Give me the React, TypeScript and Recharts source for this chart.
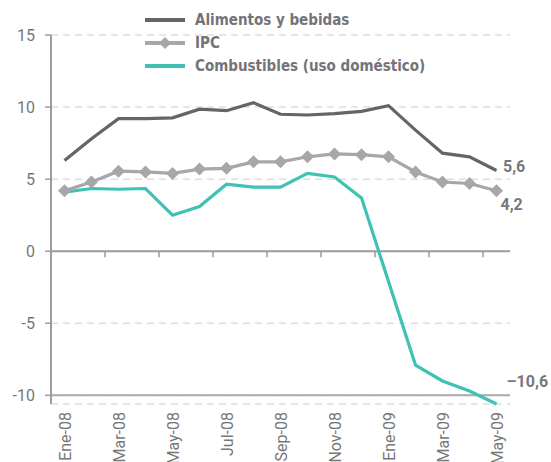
import React from 'react';
import { LineChart, Line, XAxis, YAxis, CartesianGrid, ReferenceLine, Legend, LabelList } from 'recharts';

const months = ['Ene-08', 'Feb-08', 'Mar-08', 'Abr-08', 'May-08', 'Jun-08', 'Jul-08', 'Ago-08', 'Sep-08', 'Oct-08', 'Nov-08', 'Dic-08', 'Ene-09', 'Feb-09', 'Mar-09', 'Abr-09', 'May-09'];
const alimentos = [6.3, 7.8, 9.2, 9.2, 9.25, 9.85, 9.75, 10.3, 9.5, 9.45, 9.55, 9.7, 10.1, 8.4, 6.8, 6.55, 5.6];
const ipc = [4.2, 4.8, 5.55, 5.5, 5.4, 5.7, 5.75, 6.2, 6.2, 6.55, 6.75, 6.7, 6.55, 5.5, 4.8, 4.7, 4.2];
const combustibles = [4.1, 4.35, 4.3, 4.35, 2.5, 3.1, 4.65, 4.45, 4.45, 5.4, 5.15, 3.7, -2.1, -7.9, -9.0, -9.7, -10.6];
const yTicks = [-10, -5, 0, 5, 10, 15];
const seriesNames = ['Alimentos y bebidas', 'IPC', 'Combustibles (uso doméstico)'];

const data = months.map((m, i) => ({
  month: m,
  alimentos: alimentos[i],
  ipc: ipc[i],
  combustibles: combustibles[i],
}));

const tickMonths = months.filter((_, i) => i > 0 && i % 2 === 0);

const C_ALI = '#646469';
const C_IPC = '#a7a6ab';
const C_COM = '#3fc1b3';
const AXIS = '#9c9c9c';
const TEXT = '#737378';
const BOLD_FONT = "'Liberation Sans Narrow', 'DejaVu Sans Condensed', sans-serif";
const TICK_FONT = 'Roboto, sans-serif';

const fmt = (v: number) => (v < 0 ? '–' : '') + Math.abs(v).toFixed(1).replace('.', ',');

const Diamond = (props: any) => {
  const { cx, cy, index } = props;
  if (cx == null || cy == null) return <g key={index} />;
  const r = 6.5;
  return <polygon key={index} points={`${cx},${cy - r} ${cx + r},${cy} ${cx},${cy + r} ${cx - r},${cy}`} fill={C_IPC} />;
};

const endLabel = (dx: number, dy: number) => (props: any) => {
  const { x, y, value, index } = props;
  if (index !== months.length - 1) return null;
  return (
    <text x={x + dx} y={y + dy} dominantBaseline="central" fontFamily={TICK_FONT} fontWeight="bold" fontSize={16} fill="#77777b">
      {fmt(value)}
    </text>
  );
};

const XTick = (props: any) => {
  const { x, y, payload } = props;
  return (
    <text transform={`translate(${x + 6},${y}) rotate(-90)`} textAnchor="end" fontFamily={TICK_FONT} fontSize={16} fill="#777">
      {payload.value}
    </text>
  );
};

const LegendContent = () => {
  const colors = [C_ALI, C_IPC, C_COM];
  return (
    <div style={{ display: 'flex', flexDirection: 'column' }}>
      {seriesNames.map((name, i) => (
        <div key={name} style={{ display: 'flex', alignItems: 'center', height: 23 }}>
          <svg width={44} height={16} style={{ marginRight: 6 }}>
            <line x1={0} y1={8} x2={40} y2={8} stroke={colors[i]} strokeWidth={4} />
            {i === 1 && <polygon points="20,2 26,8 20,14 14,8" fill={C_IPC} />}
          </svg>
          <span style={{ fontFamily: BOLD_FONT, fontWeight: 'bold', fontSize: 15, color: TEXT, whiteSpace: 'nowrap' }}>{name}</span>
        </div>
      ))}
    </div>
  );
};

export default function App() {
  return (
    <div style={{ position: 'absolute', left: 0, top: 0 }}>
      <LineChart width={551} height={462} data={data} margin={{ top: 35, right: 41, bottom: 0, left: 0 }}>
        <CartesianGrid vertical={false} stroke="#dedede" strokeWidth={1.5} strokeDasharray="7 5" />
        <XAxis
          dataKey="month"
          scale="band"
          interval={1}
          axisLine={false}
          tickLine={false}
          tick={<XTick />}
          height={58}
        />
        <YAxis
          domain={[-10.5, 15]}
          ticks={yTicks}
          width={51}
          axisLine={{ stroke: AXIS, strokeWidth: 2 }}
          tickLine={{ stroke: AXIS, strokeWidth: 1.5 }}
          tickSize={6}
          tickMargin={10}
          tick={{ fontFamily: TICK_FONT, fontSize: 16, fill: '#777' }}
        />
        <ReferenceLine y={-10} stroke="#aaaaaa" strokeWidth={2} />
        <ReferenceLine y={0} stroke={AXIS} strokeWidth={2} />
        {tickMonths.map((m) => (
          <ReferenceLine
            key={m}
            position="start"
            segment={[{ x: m, y: 0 }, { x: m, y: -0.42 }]}
            stroke={AXIS}
            strokeWidth={1.5}
          />
        ))}
        <Legend
          layout="vertical"
          align="center"
          verticalAlign="middle"
          content={<LegendContent />}
          wrapperStyle={{ top: 8.5, left: 145, width: 'auto' }}
        />
        <Line dataKey="combustibles" name={seriesNames[2]} stroke={C_COM} strokeWidth={3.2} dot={false} isAnimationActive={false}>
          <LabelList dataKey="combustibles" content={endLabel(10, -23)} />
        </Line>
        <Line dataKey="ipc" name={seriesNames[1]} stroke={C_IPC} strokeWidth={3.2} dot={<Diamond />} isAnimationActive={false}>
          <LabelList dataKey="ipc" content={endLabel(4, 14)} />
        </Line>
        <Line dataKey="alimentos" name={seriesNames[0]} stroke={C_ALI} strokeWidth={3.2} dot={false} isAnimationActive={false}>
          <LabelList dataKey="alimentos" content={endLabel(6.5, -4)} />
        </Line>
      </LineChart>
    </div>
  );
}
